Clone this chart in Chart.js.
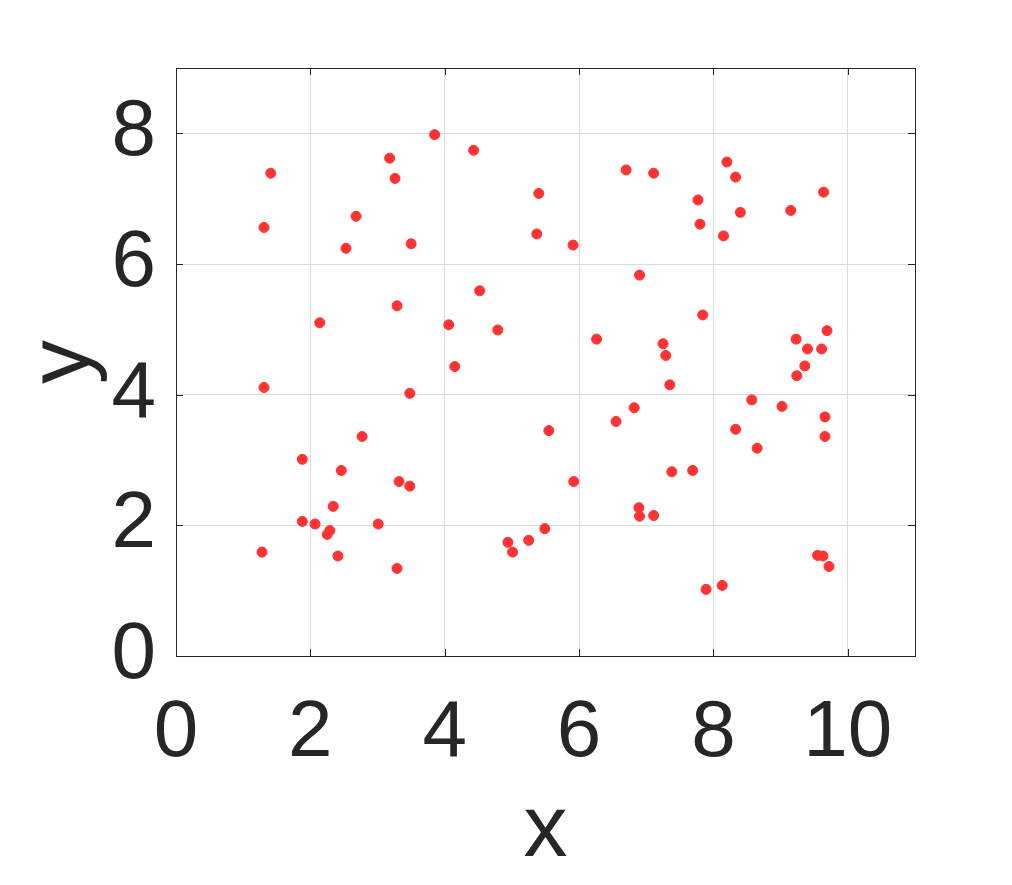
<!DOCTYPE html>
<html>
<head>
<meta charset="utf-8">
<script src="https://cdn.jsdelivr.net/npm/chart.js@4.4.1/dist/chart.umd.min.js"></script>
<style>
  body { margin: 0; background: #fff; }
  #wrap { width: 1012px; height: 885px; }
</style>
</head>
<body>
<div id="wrap"><canvas id="scatterChart" width="1012" height="885"></canvas></div>
<script>
// data
const xValues = [1.28, 1.31, 1.31, 1.41, 1.88, 1.88, 2.07, 2.14, 2.25, 2.29,
    2.34, 2.41, 2.46, 2.53, 2.68, 2.77, 3.01, 3.18, 3.26, 3.29,
    3.29, 3.32, 3.48, 3.48, 3.50, 3.85, 4.06, 4.15, 4.43, 4.52,
    4.79, 4.94, 5.01, 5.25, 5.37, 5.40, 5.49, 5.55, 5.91, 5.92,
    6.26, 6.55, 6.70, 6.82, 6.89, 6.90, 6.90, 7.11, 7.11, 7.25,
    7.29, 7.35, 7.38, 7.69, 7.77, 7.80, 7.84, 7.89, 8.13, 8.15,
    8.20, 8.33, 8.33, 8.40, 8.57, 8.65, 9.02, 9.15, 9.23, 9.24,
    9.36, 9.40, 9.55, 9.61, 9.63, 9.64, 9.66, 9.66, 9.69, 9.72];
const yValues = [1.59, 4.11, 6.56, 7.39, 3.01, 2.06, 2.02, 5.10, 1.86, 1.92,
    2.29, 1.53, 2.84, 6.24, 6.73, 3.36, 2.02, 7.62, 7.31, 1.34,
    5.36, 2.67, 2.60, 4.02, 6.31, 7.98, 5.07, 4.43, 7.74, 5.59,
    4.99, 1.74, 1.59, 1.77, 6.46, 7.08, 1.95, 3.45, 6.29, 2.67,
    4.85, 3.59, 7.44, 3.80, 2.27, 2.14, 5.83, 7.39, 2.15, 4.78,
    4.60, 4.15, 2.82, 2.84, 6.98, 6.61, 5.22, 1.02, 1.08, 6.43,
    7.56, 7.33, 3.47, 6.79, 3.92, 3.18, 3.82, 6.82, 4.85, 4.29,
    4.44, 4.70, 1.54, 4.70, 1.53, 7.10, 3.66, 3.36, 4.98, 1.37];
const xTicks = [0, 2, 4, 6, 8, 10];
const yTicks = [0, 2, 4, 6, 8];
const xRange = [0, 11];
const yRange = [0, 9];

const textColor = '#262626';
const fontFamily = "'Liberation Sans', Arial, sans-serif";

// box round the plot plus inward tick marks on all four sides
const boxTicks = {
    id: 'boxTicks',
    afterDatasetsDraw(chart) {
        const { ctx, chartArea: a, scales } = chart;
        const len = 7;
        ctx.save();
        ctx.strokeStyle = textColor;
        ctx.lineWidth = 1;
        ctx.beginPath();
        scales.x.ticks.forEach((t) => {
            const px = Math.round(scales.x.getPixelForValue(t.value)) + 0.5;
            ctx.moveTo(px, a.bottom); ctx.lineTo(px, a.bottom - len);
            ctx.moveTo(px, a.top); ctx.lineTo(px, a.top + len);
        });
        scales.y.ticks.forEach((t) => {
            const py = Math.round(scales.y.getPixelForValue(t.value)) + 0.5;
            ctx.moveTo(a.left, py); ctx.lineTo(a.left + len, py);
            ctx.moveTo(a.right, py); ctx.lineTo(a.right - len, py);
        });
        ctx.stroke();
        ctx.strokeRect(Math.round(a.left) + 0.5, Math.round(a.top) + 0.5,
            Math.round(a.width), Math.round(a.height));
        ctx.restore();
    }
};

const points = xValues.map((x, i) => ({ x: x, y: yValues[i] }));

const ctx = document.getElementById('scatterChart').getContext('2d');
const scatterChart = new Chart(ctx, {
    type: 'scatter',
    data: {
        datasets: [{
            data: points,
            backgroundColor: '#ff3333',
            borderColor: '#ff3333',
            borderWidth: 1,
            pointRadius: 5,
            pointHoverRadius: 5
        }]
    },
    options: {
        responsive: false,
        animation: false,
        layout: {
            padding: { left: 0, right: 97, top: 67, bottom: 0 }
        },
        plugins: {
            legend: { display: false },
            tooltip: { enabled: false }
        },
        scales: {
            x: {
                type: 'linear',
                min: xRange[0],
                max: xRange[1],
                afterBuildTicks: (scale) => { scale.ticks = xTicks.map(v => ({ value: v })); },
                afterFit: (scale) => { scale.height = 229; },
                grid: { color: '#dcdcdc', drawTicks: false },
                border: { display: false },
                ticks: {
                    color: textColor,
                    padding: 30,
                    maxRotation: 0,
                    font: { family: fontFamily, size: 80 }
                },
                title: {
                    display: true,
                    text: 'x',
                    color: textColor,
                    padding: 0,
                    font: { family: fontFamily, size: 88, lineHeight: 1.2 }
                }
            },
            y: {
                type: 'linear',
                min: yRange[0],
                max: yRange[1],
                afterBuildTicks: (scale) => { scale.ticks = yTicks.map(v => ({ value: v })); },
                afterFit: (scale) => { scale.width = 176; },
                grid: { color: '#dcdcdc', drawTicks: false },
                border: { display: false },
                ticks: {
                    color: textColor,
                    padding: 20,
                    font: { family: fontFamily, size: 80 }
                },
                title: {
                    display: true,
                    text: 'y',
                    color: textColor,
                    padding: 12,
                    font: { family: fontFamily, size: 88, lineHeight: 1.2 }
                }
            }
        }
    },
    plugins: [boxTicks]
});
</script>
</body>
</html>
